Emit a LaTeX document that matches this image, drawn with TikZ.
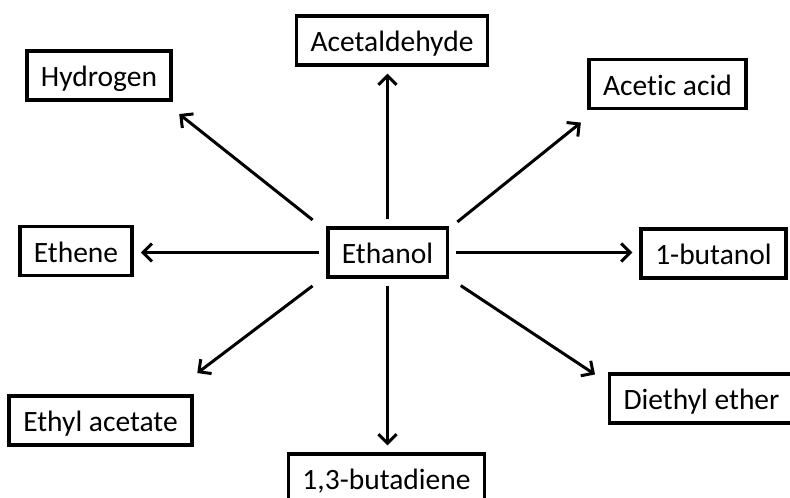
\documentclass[tikz,border=0pt]{standalone}
\usepackage{fontspec}
\setmainfont[Ligatures=NoCommon]{Carlito}
\usetikzlibrary{arrows.meta,calc}
\begin{document}
\begin{tikzpicture}[x=1pt,y=-1pt,
  box/.style={draw, line width=3.4pt, inner xsep=14pt, inner ysep=0pt,
    minimum height=49pt, text height=22pt, text depth=0pt,
    font=\fontsize{29.5}{29.5}\selectfont},
  arr/.style={line width=3pt, -{Straight Barb[length=9pt,width=18pt,line width=3pt]},
    shorten <=7pt, shorten >=7pt}]
\useasboundingbox (0,0) rectangle (790,498);
\node[box, minimum width=119pt] (eth) at (387.5,252.5) {Ethanol};
\node[box, minimum width=190pt] (ald) at (392,40.5) {Acetaldehyde};
\node[box, minimum width=144pt] (hyd) at (99,75.5) {Hydrogen};
\node[box, minimum width=157pt] (aac) at (667.5,84) {Acetic acid};
\node[box, minimum width=110pt] (ethe) at (76,251) {Ethene};
\node[box, minimum width=145pt] (but) at (713.5,253.5) {1-butanol};
\node[box, minimum width=183pt] (eac) at (100.5,420.5) {Ethyl acetate};
\node[box, minimum width=195pt] (bd) at (386.5,478.5) {1,3-butadiene};
\node[box, minimum width=173pt] (dee) at (701.5,398.5) {Diethyl ether};
\draw[arr] (eth.north) -- (eth.north |- ald.south);
\draw[arr] (eth.south) -- (eth.south |- bd.north);
\draw[arr] (eth.west) -- (eth.west -| ethe.east);
\draw[arr] (eth.east) -- (eth.east -| but.west);
\draw[arr] ($(eth.north west)+(-8,-2)$) -- ($(hyd.south east)+(1,8)$);
\draw[arr] ($(eth.north east)+(3,0)$) -- ($(aac.south west)+(-1,8)$);
\draw[arr] ($(eth.south west)+(-8,3)$) -- ($(eac.north east)+(-2,-17)$);
\draw[arr] ($(eth.south east)+(6,3)$) -- ($(dee.north west)+(-7,6)$);
\end{tikzpicture}
\end{document}
